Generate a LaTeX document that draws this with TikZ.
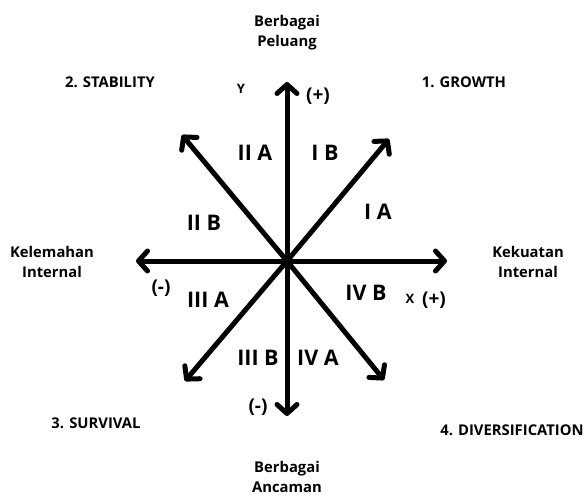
\documentclass[tikz,border=0pt]{standalone}
\usepackage{fontspec}
\setmainfont{Open Sans}
\usetikzlibrary{arrows.meta}
\tikzset{
  axis/.style={line width=5pt, line cap=round, -{Straight Barb[length=9pt,width=20pt,line cap=round,line join=round]}},
  lbl/.style={font=\bfseries\fontsize{14.8}{16}\selectfont, inner sep=0pt},
  side/.style={font=\bfseries\fontsize{14.8}{20}\selectfont, inner sep=0pt, align=center},
  quad/.style={font=\bfseries\fontsize{21.5}{22}\selectfont, inner sep=0pt},
  sgn/.style={font=\bfseries\fontsize{19}{20}\selectfont, inner sep=0pt},
  small/.style={font=\bfseries\fontsize{13}{14}\selectfont, inner sep=0pt}
}
\begin{document}
\begin{tikzpicture}[x=1pt,y=-1pt]
\useasboundingbox (0,0) rectangle (587,495);
\fill[white] (0,0) rectangle (587,495);
\coordinate (o) at (287,261);
\coordinate (up) at (287,82);
\coordinate (down) at (287,416);
\coordinate (left) at (136,261);
\coordinate (right) at (447,261);
\coordinate (ur) at (389,139);
\coordinate (ul) at (182,135);
\coordinate (ll) at (185,381);
\coordinate (lr) at (384,380);
\draw[axis] (o) -- (up);
\draw[axis] (o) -- (down);
\draw[axis] (o) -- (left);
\draw[axis] (o) -- (right);
\draw[axis] (o) -- (ur);
\draw[axis] (o) -- (ul);
\draw[axis] (o) -- (ll);
\draw[axis] (o) -- (lr);

\node[side] (peluang) at (287,33) {Berbagai\\Peluang};
\node[side] (ancaman) at (287,477) {Berbagai\\Ancaman};
\node[side] (kelemahan) at (52,262) {Kelemahan\\Internal};
\node[side] (kekuatan) at (528,262) {Kekuatan\\Internal};

\node[lbl] (stab) at (110,82) {2. STABILITY};
\node[lbl] (grow) at (464,82) {1. GROWTH};
\node[lbl] (surv) at (96,423) {3. SURVIVAL};
\node[lbl] (div) at (512,430) {4. DIVERSIFICATION};

\node[small] (ylab) at (241,89) {Y};
\node[sgn] (yplus) at (318,96) {(+)};
\node[sgn] (xminus) at (161,288) {(-)};
\node[small] (xlab) at (410,299) {X};
\node[sgn] (xplus) at (434,300) {(+)};
\node[sgn] (yminus) at (258,407) {(-)};

\node[quad] (q2a) at (255,153) {II A};
\node[quad] (q1b) at (325,153) {I B};
\node[quad] (q2b) at (204,223) {II B};
\node[quad] (q1a) at (378,212) {I A};
\node[quad] (q3a) at (208,300) {III A};
\node[quad] (q4b) at (366,293) {IV B};
\node[quad] (q3b) at (258,358) {III B};
\node[quad] (q4a) at (318,358) {IV A};
\end{tikzpicture}
\end{document}
